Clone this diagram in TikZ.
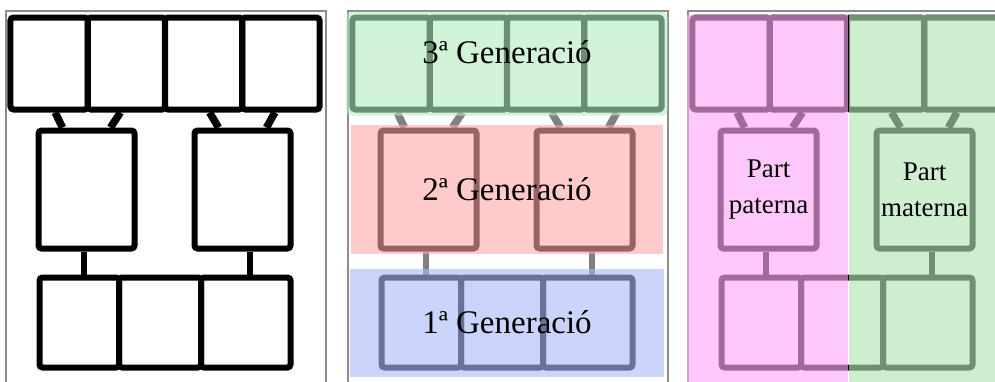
\documentclass[tikz,border=0pt]{standalone}
\usepackage{fontspec}
\setmainfont{Liberation Serif}
\usetikzlibrary{calc,fit,backgrounds}

\definecolor{genthree}{rgb}{0.70,0.93,0.75}
\definecolor{gentwo}{rgb}{1.00,0.65,0.65}
\definecolor{genone}{rgb}{0.67,0.73,0.97}
\definecolor{paterna}{rgb}{1.00,0.66,0.97}
\definecolor{materna}{rgb}{0.69,0.90,0.71}

\begin{document}
\begin{tikzpicture}[x=1pt, y=-1pt,
    box/.style={draw, line width=6pt, rounded corners=3pt, inner sep=0pt},
    leg/.style={line width=7.5pt},
    stem/.style={line width=6pt},
    frame/.style={draw=black!45, line width=1.5pt},
    band/.style={inner sep=0pt, fill opacity=0.6, text opacity=1,
                 font=\fontsize{33}{39}\selectfont},
    side/.style={inner sep=0pt, fill opacity=0.63, anchor=north west,
                 minimum height=390pt},
    part/.style={align=center, font=\fontsize{27}{36}\selectfont}]
    \useasboundingbox (0,0) rectangle (995,381);
    \clip (0,0) rectangle (995,381);

    % three copies of the same family tree
    \foreach \p/\dx/\lc in {a/0/black, b/342/gray, c/682/black} {
      \begin{scope}[shift={(\dx,0)}]
        \draw[frame] (6,11) rectangle (326,400);
        \foreach \i/\x in {1/49.1, 2/126.4, 3/203.6, 4/280.9}
            \node[box, minimum width=77.25pt, minimum height=92pt] (\p-t\i) at (\x,63.5) {};
        \foreach \i/\x in {1/86.5, 2/242.5}
            \node[box, minimum width=96pt, minimum height=118pt] (\p-m\i) at (\x,189.5) {};
        \foreach \i/\x/\w in {1/79.25/79.5, 2/160/82, 3/245.75/89.5}
            \node[box, minimum width=\w pt, minimum height=90pt] (\p-b\i) at (\x,322.5) {};
        \begin{scope}[on background layer]
          \foreach \l/\r/\m in {t1/t2/m1, t3/t4/m2} {
              \draw[leg, \lc] ([xshift=6pt]\p-\l.south) -- ([xshift=-24pt]\p-\m.north);
              \draw[leg, \lc] ([xshift=-6pt]\p-\r.south) -- ([xshift=24pt]\p-\m.north);
          }
          \foreach \m/\b/\s in {m1/b1/-3, m2/b3/7}
              \draw[stem, \lc] ([xshift=\s pt]\p-\m.south) -- ([xshift=\s pt]\p-\m.south |- \p-\b.north);
        \end{scope}
      \end{scope}
    }

    % generations
    \node[band, fill=genthree, rounded corners=5pt, fit=(b-t1)(b-t4), inner sep=3pt] (gen3) {3ª Generació};
    \node[band, fill=gentwo, minimum width=312pt, minimum height=129pt] (gen2) at (gen3 |- b-m1) {2ª Generació};
    \node[band, fill=genone, fill opacity=0.62, minimum width=314pt, minimum height=108pt] (gen1) at (gen3 |- b-b1) {1ª Generació};

    % father's and mother's side
    \node[side, fill=paterna, minimum width=161pt] (pat) at (687,15) {};
    \node[side, fill=materna, minimum width=170pt] (mat) at (pat.north east) {};
    \node[part] at (c-m1) {Part\\paterna};
    \node[part] at (c-m2) {Part\\materna};
\end{tikzpicture}
\end{document}
